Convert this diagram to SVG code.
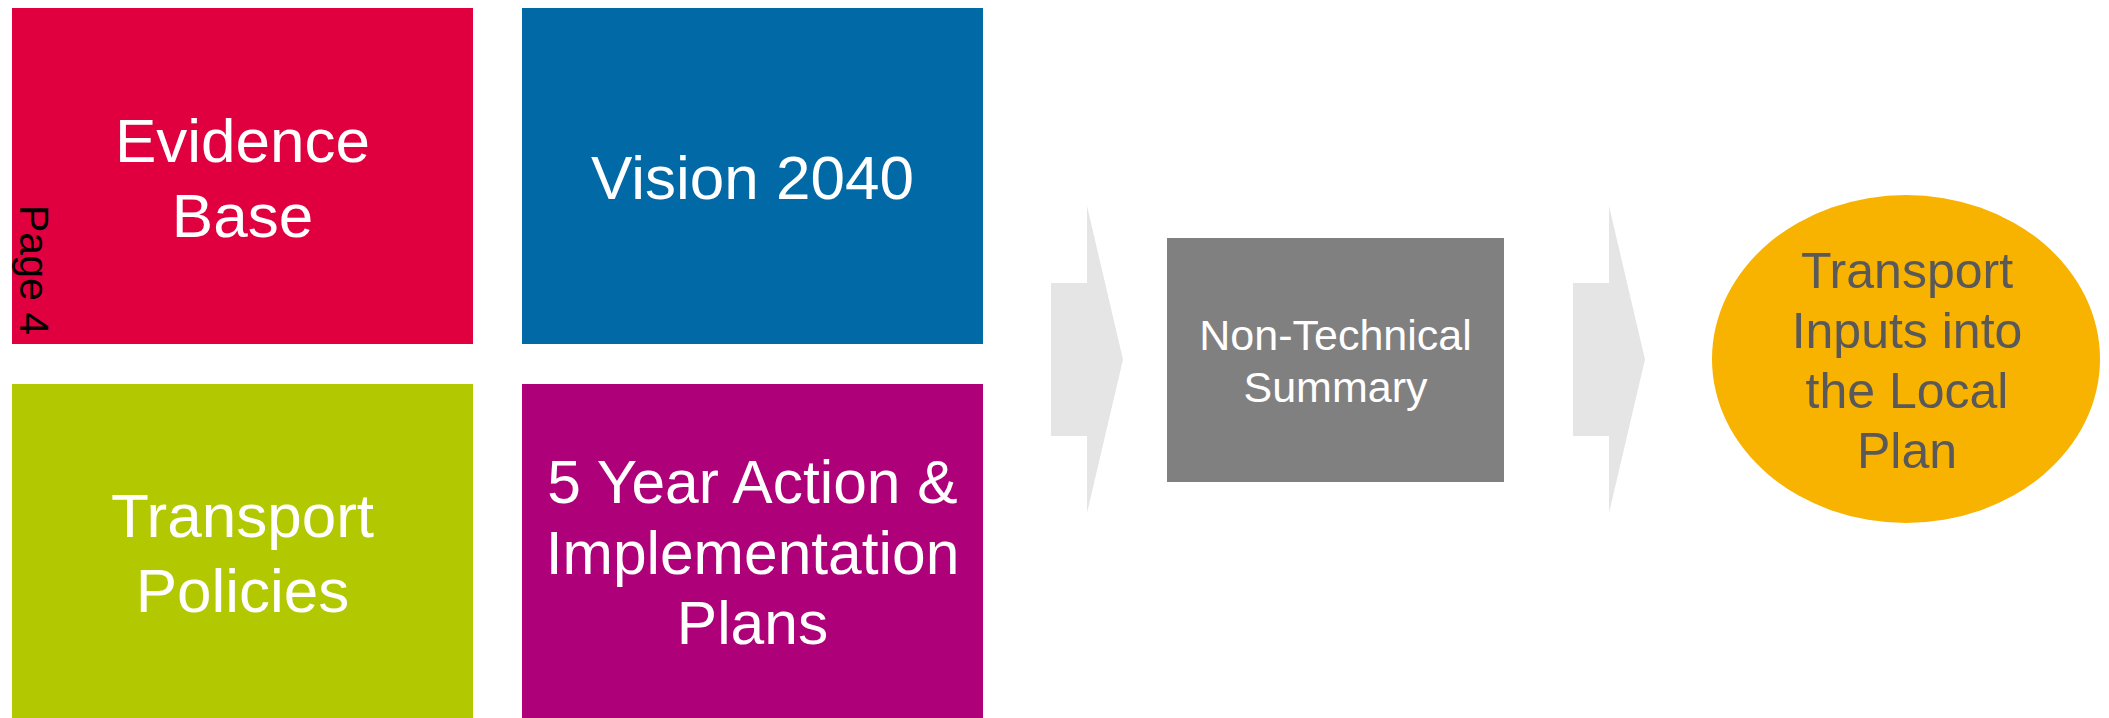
<svg xmlns="http://www.w3.org/2000/svg" width="2109" height="718" viewBox="0 0 2109 718">
<style>
text{font-family:"Liberation Sans",Arial,sans-serif;text-anchor:middle}
.w{fill:#ffffff}
.t62{font-size:62px}
.t59{font-size:60.5px}
.t43{font-size:43px}
.t50{font-size:50px;fill:#595959}
.arrow{fill:#e5e5e5}
</style>
<rect width="2109" height="718" fill="#ffffff"/>
<g id="connectors">
<polygon class="arrow" points="1051,283 1087,283 1087,206 1123,359.5 1087,513 1087,436 1051,436"/>
<polygon class="arrow" points="1573,283 1609,283 1609,206 1645,359.5 1609,513 1609,436 1573,436"/>
</g>
<g id="evidence-base">
<rect x="12" y="8" width="461" height="336" fill="#e1003f"/>
<text class="w t62" x="242.5" y="162">Evidence</text>
<text class="w t62" x="242.5" y="237">Base</text>
</g>
<g id="page-label">
<text transform="translate(20,205) rotate(90)" x="0" y="0" style="font-size:41px;text-anchor:start;fill:#000000">Page 4</text>
</g>
<g id="vision-2040">
<rect x="522" y="8" width="461" height="336" fill="#0069a6"/>
<text class="w t62" x="752.5" y="199">Vision 2040</text>
</g>
<g id="transport-policies">
<rect x="12" y="384" width="461" height="337" fill="#b2c800"/>
<text class="w t62" x="242.5" y="537">Transport</text>
<text class="w t62" x="242.5" y="612">Policies</text>
</g>
<g id="action-plans">
<rect x="522" y="384" width="461" height="337" fill="#ae0078"/>
<text class="w t59" x="752.5" y="503">5 Year Action &amp;</text>
<text class="w t59" x="752.5" y="574">Implementation</text>
<text class="w t59" x="752.5" y="644">Plans</text>
</g>
<g id="non-technical-summary">
<rect x="1167" y="238" width="337" height="244" fill="#808080"/>
<text class="w t43" x="1335.5" y="350">Non-Technical</text>
<text class="w t43" x="1335.5" y="402">Summary</text>
</g>
<g id="local-plan">
<ellipse cx="1906" cy="359" rx="194" ry="164" fill="#f8b200"/>
<text class="t50" x="1907" y="288">Transport</text>
<text class="t50" x="1907" y="348">Inputs into</text>
<text class="t50" x="1907" y="408">the Local</text>
<text class="t50" x="1907" y="468">Plan</text>
</g>
</svg>
